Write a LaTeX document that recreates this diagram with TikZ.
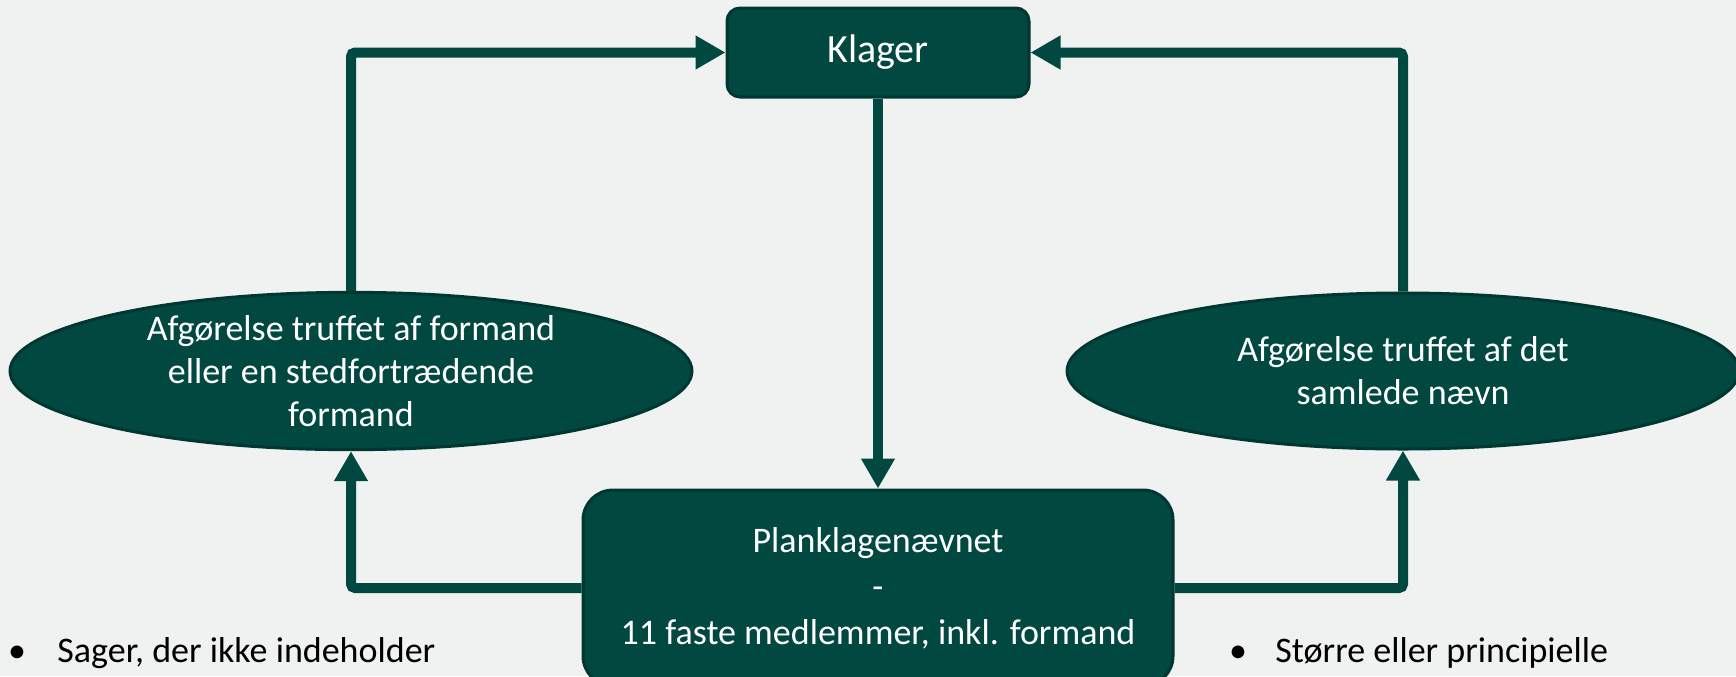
\documentclass[tikz,border=0pt]{standalone}
\usepackage{fontspec}
\setmainfont{Carlito}
\usepackage{xcolor}
\usetikzlibrary{arrows.meta,shapes.geometric}
\definecolor{pkgreen}{RGB}{0,72,64}
\definecolor{pkdark}{RGB}{0,55,48}
\definecolor{pkback}{RGB}{240,242,241}
\begin{document}
\begin{tikzpicture}[x=0.5pt,y=-0.5pt,>={Triangle[length=15pt,width=16pt]},
  boks/.style={draw=pkdark, line width=1.5pt, fill=pkgreen, text=white,
    align=center},
  afgoerelse/.style={ellipse, draw=pkdark, line width=1.5pt, fill=pkgreen,
    text=white, align=center, inner sep=0pt, minimum height=78pt,
    font=\fontsize{18}{21.5}\selectfont},
  pil/.style={->, line width=5pt, pkgreen, rounded corners=2pt},
  punkt/.style={inner sep=0pt, font=\fontsize{18}{22}\selectfont, text=black}]
%\draw[help lines] (0,0) grid (1736,676);
\useasboundingbox (0,0) rectangle (1736,676);
\fill[pkback] (0,0) rectangle (1736,676);
%==================== Klager ==================
\node[boks, rounded corners=6.5pt, minimum width=151pt, minimum height=44.5pt,
  font=\fontsize{20}{24}\selectfont] (klager) at (878,52.5) {Klager};
%==================== Planklagenaevnet ==================
\node[boks, rounded corners=15pt, minimum width=295pt, minimum height=98pt,
  font=\fontsize{18}{23}\selectfont]
  (naevn) at (878,588) {Planklagenævnet\\-\\11 faste medlemmer, inkl. formand};
%==================== Afgoerelser ==================
\node[afgoerelse, minimum width=341pt] (formand) at (351,371)
  {Afgørelse truffet af formand\\eller en stedfortrædende\\formand};
\node[afgoerelse, minimum width=336pt] (samlet) at (1403,371)
  {Afgørelse truffet af det\\samlede nævn};
%=================== Pile =================================
\draw[pil] (klager.south) -- (naevn.north);
\draw[pil] (formand.north) |- (klager.west);
\draw[pil] (samlet.north) |- (klager.east);
\draw[pil] (naevn.west) -| (formand.south);
\draw[pil] (naevn.east) -| (samlet.south);
%======================= Punkter =============================
\node[punkt, anchor=base] (prik1) at (17,662) {•};
\node[punkt, anchor=base west] (sager) at (57,662) {Sager, der ikke indeholder};
\node[punkt, anchor=base] (prik2) at (1238,662) {•};
\node[punkt, anchor=base west] (stoerre) at (1275,662) {Større eller principielle};
\end{tikzpicture}
\end{document}
